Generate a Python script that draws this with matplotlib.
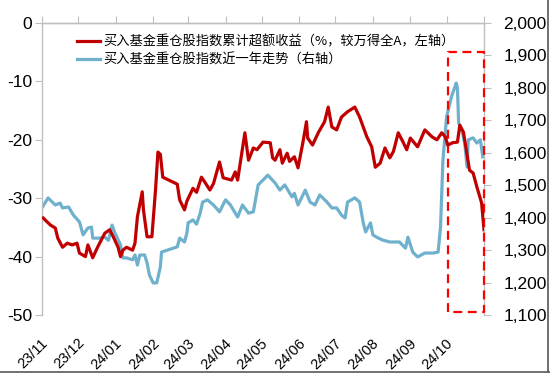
import matplotlib.pyplot as plt
import matplotlib.dates as mdates
import matplotlib.ticker as mticker
import matplotlib.transforms as mtransforms
import pandas as pd
from matplotlib.lines import Line2D

# 买入基金重仓股指数累计超额收益（左轴，%）
red_dates = ['2023-11-02', '2023-11-08', '2023-11-12', '2023-11-14', '2023-11-18', '2023-11-22',
             '2023-11-26', '2023-11-30', '2023-12-02', '2023-12-07', '2023-12-09', '2023-12-13',
             '2023-12-17', '2023-12-23', '2023-12-27', '2023-12-30', '2024-01-03', '2024-01-05',
             '2024-01-07', '2024-01-10', '2024-01-15', '2024-01-17', '2024-01-19', '2024-01-23',
             '2024-01-24', '2024-01-27', '2024-01-31', '2024-02-03', '2024-02-05', '2024-02-07',
             '2024-02-09', '2024-02-15', '2024-02-21', '2024-02-23', '2024-02-27', '2024-02-29',
             '2024-03-05', '2024-03-08', '2024-03-12', '2024-03-15', '2024-03-19', '2024-03-22',
             '2024-03-27', '2024-03-30', '2024-04-06', '2024-04-09', '2024-04-11', '2024-04-17',
             '2024-04-20', '2024-04-24', '2024-04-27', '2024-05-02', '2024-05-08', '2024-05-10',
             '2024-05-12', '2024-05-16', '2024-05-18', '2024-05-22', '2024-05-24', '2024-05-28',
             '2024-05-31', '2024-06-04', '2024-06-07', '2024-06-08', '2024-06-12', '2024-06-17',
             '2024-06-22', '2024-06-25', '2024-06-28', '2024-07-02', '2024-07-06', '2024-07-11',
             '2024-07-17', '2024-07-21', '2024-07-27', '2024-07-31', '2024-08-03', '2024-08-07',
             '2024-08-11', '2024-08-15', '2024-08-18', '2024-08-22', '2024-08-26', '2024-08-29',
             '2024-09-01', '2024-09-07', '2024-09-13', '2024-09-19', '2024-09-23', '2024-09-27',
             '2024-09-30', '2024-10-02', '2024-10-06', '2024-10-10', '2024-10-12', '2024-10-15',
             '2024-10-20', '2024-10-23', '2024-10-26', '2024-10-30', '2024-11-01']
red_vals = [-33.4, -34.6, -35.1, -36.8, -38.4, -37.7,
            -38.0, -37.7, -39.4, -40.0, -38.0, -40.2,
            -38.4, -36.0, -35.4, -36.6, -38.4, -40.0,
            -38.9, -38.4, -38.9, -37.7, -33.2, -28.9,
            -32.0, -36.6, -36.6, -28.6, -22.1, -22.5,
            -26.4, -27.0, -27.6, -30.3, -32.0, -30.5,
            -28.3, -29.0, -26.4, -27.3, -28.6, -27.5,
            -23.8, -26.5, -26.9, -25.5, -26.9, -18.8,
            -23.5, -21.4, -21.7, -20.4, -20.5, -23.1,
            -23.5, -21.7, -24.0, -22.3, -23.7, -22.9,
            -24.8, -20.5, -16.9, -19.7, -20.9, -18.7,
            -16.9, -14.4, -17.8, -18.3, -16.1, -15.2,
            -14.4, -16.1, -19.5, -21.2, -24.7, -24.0,
            -21.4, -23.1, -22.0, -18.8, -20.4, -21.7,
            -19.7, -21.2, -18.3, -19.5, -20.0, -18.8,
            -19.5, -20.9, -20.5, -20.4, -17.5, -18.7,
            -25.2, -25.7, -28.0, -30.8, -35.4]

# 买入基金重仓股指数近一年走势（右轴）
blue_dates = ['2023-11-01', '2023-11-06', '2023-11-12', '2023-11-16', '2023-11-18', '2023-11-23',
              '2023-11-27', '2023-12-02', '2023-12-05', '2023-12-09', '2023-12-12', '2023-12-13',
              '2023-12-19', '2023-12-23', '2023-12-26', '2023-12-29', '2023-12-31', '2024-01-05',
              '2024-01-07', '2024-01-10', '2024-01-15', '2024-01-17', '2024-01-19', '2024-01-21',
              '2024-01-25', '2024-01-27', '2024-01-29', '2024-02-01', '2024-02-04', '2024-02-07',
              '2024-02-08', '2024-02-21', '2024-02-23', '2024-02-27', '2024-02-29', '2024-03-01',
              '2024-03-05', '2024-03-08', '2024-03-11', '2024-03-13', '2024-03-17', '2024-03-22',
              '2024-03-27', '2024-04-01', '2024-04-05', '2024-04-11', '2024-04-15', '2024-04-20',
              '2024-04-24', '2024-04-28', '2024-05-02', '2024-05-06', '2024-05-12', '2024-05-16',
              '2024-05-20', '2024-05-26', '2024-05-28', '2024-05-31', '2024-06-06', '2024-06-10',
              '2024-06-14', '2024-06-18', '2024-06-24', '2024-06-28', '2024-07-02', '2024-07-06',
              '2024-07-09', '2024-07-11', '2024-07-17', '2024-07-21', '2024-07-24', '2024-07-26',
              '2024-07-30', '2024-08-01', '2024-08-04', '2024-08-09', '2024-08-15', '2024-08-23',
              '2024-08-28', '2024-08-30', '2024-09-03', '2024-09-07', '2024-09-13', '2024-09-20',
              '2024-09-24', '2024-09-26', '2024-09-28', '2024-10-01', '2024-10-05', '2024-10-09',
              '2024-10-10', '2024-10-11', '2024-10-14', '2024-10-16', '2024-10-18', '2024-10-19',
              '2024-10-23', '2024-10-26', '2024-10-29', '2024-10-31']
blue_vals = [1430, 1461, 1439, 1445, 1430, 1433,
             1408, 1387, 1347, 1368, 1371, 1337,
             1337, 1340, 1330, 1377, 1356, 1316,
             1276, 1276, 1270, 1285, 1254, 1285,
             1285, 1260, 1223, 1199, 1199, 1248,
             1294, 1310, 1337, 1325, 1353, 1384,
             1393, 1380, 1414, 1448, 1455, 1439,
             1418, 1455, 1439, 1402, 1439, 1414,
             1418, 1501, 1516, 1531, 1507, 1485,
             1501, 1464, 1475, 1439, 1485, 1448,
             1439, 1470, 1448, 1430, 1430, 1408,
             1399, 1448, 1461, 1448, 1384, 1356,
             1384, 1347, 1340, 1331, 1325, 1325,
             1306, 1340, 1294, 1279, 1291, 1291,
             1294, 1371, 1578, 1710, 1772, 1815,
             1800, 1692, 1664, 1630, 1556, 1640,
             1646, 1630, 1640, 1587]

tick_dates = pd.date_range('2023-11-01', '2024-11-01', freq='MS')
tick_labels = ['23/11', '23/12', '24/01', '24/02', '24/03', '24/04', '24/05',
               '24/06', '24/07', '24/08', '24/09', '24/10', '']

red_label = '买入基金重仓股指数累计超额收益（%，较万得全A，左轴）'
blue_label = '买入基金重仓股指数近一年走势（右轴）'

RED = '#C00000'
BLUE = '#6FB1CD'
GREY = '#BFBFBF'

plt.rcParams['font.family'] = ['Liberation Sans', 'Noto Sans CJK SC', 'DejaVu Sans']
plt.rcParams['axes.unicode_minus'] = False

fig = plt.figure(figsize=(5.5, 3.73), dpi=100)
ax = fig.add_axes([42 / 550, 1 - 315 / 373, 442 / 550, 292 / 373])
ax2 = ax.twinx()

ax.plot(pd.to_datetime(red_dates), red_vals, color=RED, lw=2.3, zorder=3)
ax2.plot(pd.to_datetime(blue_dates), blue_vals, color=BLUE, lw=2.3, zorder=2)
ax.set_zorder(ax2.get_zorder() + 1)
ax.patch.set_visible(False)

ax.set_xlim(pd.Timestamp('2023-11-01'), pd.Timestamp('2024-11-01'))
ax.set_ylim(-50, 0)
ax.set_yticks([0, -10, -20, -30, -40, -50])
ax2.set_ylim(1100, 2000)
ax2.set_yticks(range(1100, 2001, 100))
ax2.yaxis.set_major_formatter(mticker.FuncFormatter(lambda v, p: f'{int(v):,}'))

ax.set_xticks(tick_dates)
ax.set_xticklabels(tick_labels, rotation=45, ha='right', va='center',
                   rotation_mode='anchor', fontsize=10.5)
ax.tick_params(axis='x', top=True, bottom=False, labelbottom=True, labeltop=False,
               direction='out', length=5, color=GREY, pad=13.5)
ax.tick_params(axis='y', direction='out', length=5, color=GREY, labelsize=12.5, pad=2)
ax2.tick_params(axis='y', direction='out', length=5, color=GREY, labelsize=12.5, pad=9)
shift = mtransforms.ScaledTranslation(4 / 100, 0, fig.dpi_scale_trans)
for lbl in ax.get_xticklabels():
    lbl.set_transform(lbl.get_transform() + shift)

for a in (ax, ax2):
    a.spines['bottom'].set_visible(False)
    for s in ('top', 'left', 'right'):
        a.spines[s].set_color(GREY)
        a.spines[s].set_linewidth(1.0)
ax.spines['right'].set_visible(False)
ax2.spines['left'].set_visible(False)

# highlighted window
x0 = mdates.date2num(pd.Timestamp('2024-10-02'))
x1 = mdates.date2num(pd.Timestamp('2024-11-01'))
ax2.plot([x0, x0, x1, x1, x0], [1109, 1910, 1910, 1109, 1109], color='#FF0000',
         lw=1.6, ls=(0, (4, 2.5)), clip_on=False, zorder=5)

handles = [Line2D([], [], color=RED, lw=2.3), Line2D([], [], color=BLUE, lw=2.3)]
fig.legend(handles, [red_label, blue_label], loc='upper left',
           bbox_to_anchor=(68 / 550, 1 - 26 / 373), frameon=False,
           prop={'family': ['Noto Sans CJK SC', 'DejaVu Sans'], 'size': 9.5},
           handlelength=1.7, handletextpad=0.3, labelspacing=0.35, borderpad=0.2)

# picture frame lines (bottom / right)
fig.add_artist(Line2D([0, 1], [0.002, 0.002], color='#595959', lw=1.2, transform=fig.transFigure))
fig.add_artist(Line2D([0.997, 0.997], [0, 1], color='#595959', lw=1.2, transform=fig.transFigure))

fig.savefig('out.png', dpi=100)
